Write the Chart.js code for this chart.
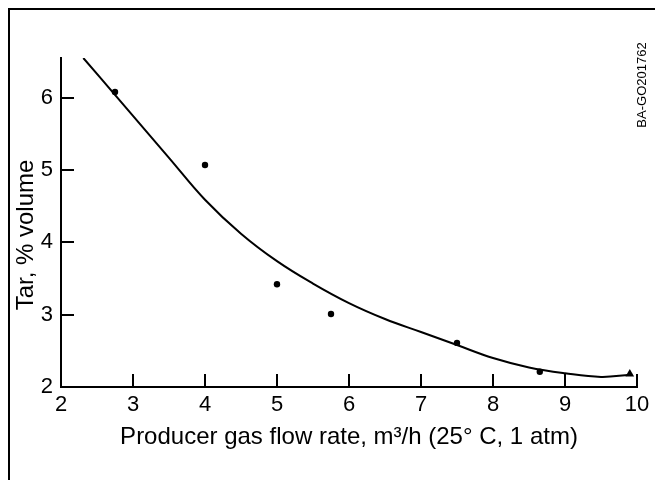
<!DOCTYPE html>
<html>
<head>
<meta charset="utf-8">
<script src="https://cdn.jsdelivr.net/npm/chart.js@4/dist/chart.umd.min.js"></script>
<style>
  html, body { margin: 0; padding: 0; background: #fff; }
  #wrap { width: 655px; height: 480px; }
</style>
</head>
<body>
<div id="wrap"><canvas id="c" width="655" height="480"></canvas></div>
<script>
// Measured tar content vs. producer gas flow rate
const flowRate   = [2.75, 4.0, 5.0, 5.75, 7.5, 8.65];
const tarPercent = [6.08, 5.07, 3.42, 3.01, 2.61, 2.21];
// Separate run plotted with a triangle marker
const triFlowRate   = [9.9];
const triTarPercent = [2.18];
// Smoothed trend curve
const fitFlowRate   = [2.31, 2.75, 3.0, 3.5, 4.0, 4.5, 5.0, 5.5, 6.0, 6.5, 7.0, 7.5, 8.0, 8.5, 9.0, 9.5, 9.9];
const fitTarPercent = [6.55, 6.04, 5.75, 5.17, 4.59, 4.12, 3.74, 3.43, 3.16, 2.94, 2.76, 2.58, 2.40, 2.27, 2.19, 2.14, 2.17];
// Axis ticks and labels
const xTicks = [2, 3, 4, 5, 6, 7, 8, 9, 10];
const yTicks = [2, 3, 4, 5, 6];
const xTitle = 'Producer gas flow rate, m\u00B3/h (25\u00B0 C, 1 atm)';
const yTitle = 'Tar, % volume';
const figureId = 'BA-GO201762';

const FONT = '"Liberation Sans", Arial, Helvetica, sans-serif';
const pairs = (xs, ys) => xs.map((v, i) => ({ x: v, y: ys[i] }));

// Frame, inward tick marks, rotated labels
const decor = {
  id: 'decor',
  beforeDraw(chart) {
    const ctx = chart.ctx;
    ctx.save();
    ctx.fillStyle = '#fff';
    ctx.fillRect(0, 0, chart.width, chart.height);
    ctx.restore();
  },
  afterDraw(chart) {
    const { ctx } = chart;
    const x = chart.scales.x, y = chart.scales.y;
    ctx.save();
    ctx.strokeStyle = '#000';
    ctx.lineWidth = 2;
    ctx.beginPath();
    ctx.moveTo(9, chart.height);
    ctx.lineTo(9, 9);
    ctx.lineTo(chart.width, 9);
    ctx.stroke();

    const len = 13;
    ctx.beginPath();
    xTicks.slice(1).forEach(v => {
      const px = Math.round(x.getPixelForValue(v));
      ctx.moveTo(px, y.bottom);
      ctx.lineTo(px, y.bottom - len);
    });
    yTicks.slice(1).forEach(v => {
      const py = Math.round(y.getPixelForValue(v));
      ctx.moveTo(x.left, py);
      ctx.lineTo(x.left + len, py);
    });
    ctx.stroke();

    ctx.fillStyle = '#000';
    ctx.textAlign = 'center';

    ctx.save();
    ctx.translate(33, 235);
    ctx.rotate(-Math.PI / 2);
    ctx.textBaseline = 'alphabetic';
    ctx.font = '24px ' + FONT;
    ctx.fillText(yTitle, 0, 0);
    ctx.restore();

    ctx.save();
    ctx.translate(642, 85);
    ctx.rotate(-Math.PI / 2);
    ctx.textBaseline = 'middle';
    ctx.font = '13px ' + FONT;
    ctx.fillText(figureId, 0, 0);
    ctx.restore();

    ctx.restore();
  }
};

new Chart(document.getElementById('c'), {
  type: 'scatter',
  data: {
    datasets: [
      {
        data: pairs(fitFlowRate, fitTarPercent),
        showLine: true,
        borderColor: '#000',
        borderWidth: 2,
        pointRadius: 0,
        tension: 0.4,
        order: 2
      },
      {
        data: pairs(flowRate, tarPercent),
        pointStyle: 'circle',
        pointRadius: 3.2,
        backgroundColor: '#000',
        borderColor: '#000',
        borderWidth: 0,
        order: 1
      },
      {
        data: pairs(triFlowRate, triTarPercent),
        pointStyle: 'triangle',
        pointRadius: 5,
        backgroundColor: '#000',
        borderColor: '#000',
        borderWidth: 0,
        order: 1
      }
    ]
  },
  options: {
    responsive: false,
    animation: false,
    devicePixelRatio: 1,
    layout: { padding: { left: 0, right: 18, top: 58, bottom: 0 } },
    plugins: { legend: { display: false }, tooltip: { enabled: false } },
    events: [],
    scales: {
      x: {
        type: 'linear',
        min: 2,
        max: 10,
        afterBuildTicks: s => { s.ticks = xTicks.map(v => ({ value: v })); },
        afterFit: s => { s.height = 93; },
        grid: { display: false, drawTicks: false },
        border: { display: true, color: '#000', width: 2 },
        ticks: { color: '#000', font: { family: FONT, size: 22 }, padding: 5, maxRotation: 0, autoSkip: false },
        title: {
          display: true,
          text: xTitle,
          color: '#000',
          font: { family: FONT, size: 24 },
          padding: { top: 0, bottom: 28 }
        }
      },
      y: {
        type: 'linear',
        min: 2,
        max: 6.55,
        afterBuildTicks: s => { s.ticks = yTicks.map(v => ({ value: v })); },
        afterFit: s => { s.width = 61; },
        grid: { display: false, drawTicks: false },
        border: { display: true, color: '#000', width: 2 },
        ticks: { color: '#000', font: { family: FONT, size: 22 }, padding: 8, autoSkip: false }
      }
    }
  },
  plugins: [decor]
});
</script>
</body>
</html>
